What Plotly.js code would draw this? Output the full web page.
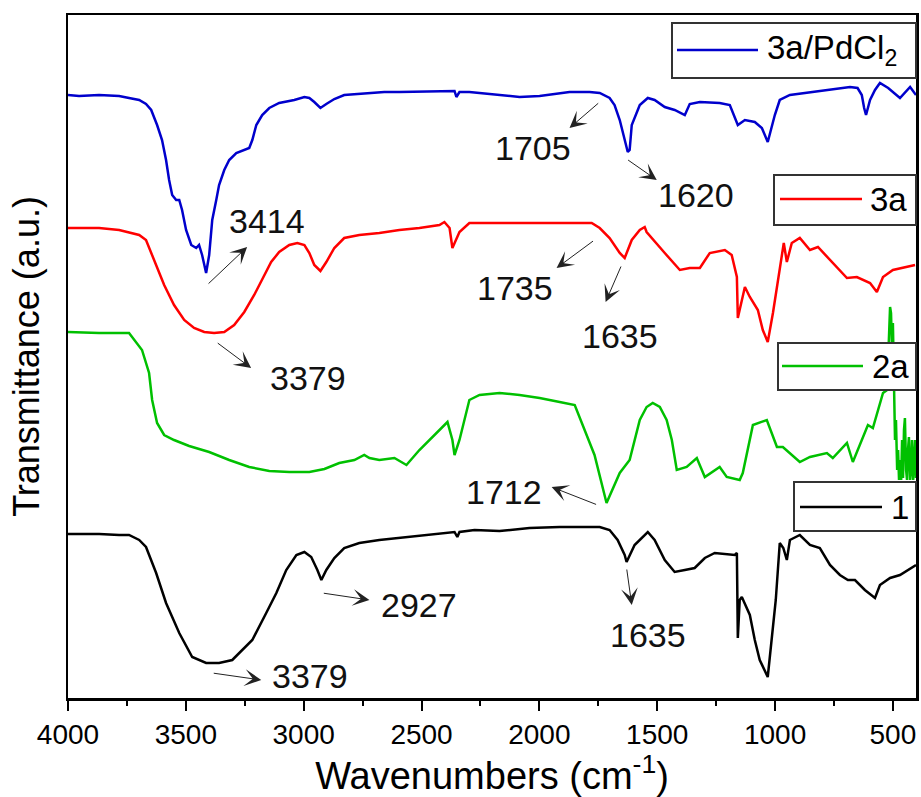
<!DOCTYPE html>
<html><head><meta charset="utf-8">
<script src="https://cdn.plot.ly/plotly-3.0.1.min.js"></script>
<style>html,body{margin:0;padding:0;background:#fff}</style>
</head><body>
<div id="chart" style="width:921px;height:797px"></div>
<script>
// ---- data (wavenumber in cm^-1, transmittance in arbitrary offset units) ----
const seriesNames = ['3a/PdCl<sub>2</sub>', '3a', '2a', '1'];

const wnPd = [4000,3953,3868,3783,3741,3698,3669,3647,3622,3601,3584,3571,3558,3541,3528,3516,3499,3477,3456,3444,3431,3414,3401,3388,3371,3359,3337,3316,3286,3252,3231,3218,3201,3176,3146,3104,3040,2997,2976,2955,2929,2904,2870,2828,2658,2594,2360,2352,2339,2297,2169,2084,1999,1872,1787,1744,1702,1681,1659,1638,1625,1617,1608,1574,1540,1511,1468,1426,1383,1379,1362,1319,1235,1192,1158,1128,1086,1056,1031,1001,980,937,810,725,682,650,632,622,614,597,576,555,520,470,427,402];
const tPd = [603,602,603,602,600,598,594,588,573,558,538,518,503,498,498,488,468,453,450,453,443,425,443,478,498,513,528,538,545,548,550,558,573,583,590,595,598,601,600,596,590,594,599,603,606,606,607,601,606,606,603,601,602,606,606,605,600,593,578,558,546,548,573,593,600,598,591,588,583,585,594,596,595,593,573,578,576,570,556,583,598,603,607,610,611,610,603,590,583,598,608,615,610,600,611,603];

const wn3a = [4000,3868,3783,3698,3669,3635,3592,3550,3507,3465,3422,3380,3337,3295,3252,3210,3167,3138,3104,3061,3027,2997,2976,2955,2929,2904,2870,2828,2764,2679,2594,2509,2424,2403,2381,2369,2339,2297,2212,1999,1778,1744,1702,1659,1638,1608,1574,1553,1545,1468,1404,1362,1319,1277,1213,1184,1162,1158,1128,1107,1073,1052,1031,1009,988,963,950,929,895,852,818,767,725,695,653,597,568,542,500,440,406];
const t3a = [470,470,468,463,458,438,413,393,378,370,366,365,366,373,386,403,423,436,446,453,455,453,445,433,427,436,450,460,463,465,468,470,473,476,470,450,466,475,475,475,475,470,460,445,440,458,468,471,466,445,428,430,430,445,448,443,421,380,411,401,388,368,356,385,418,455,436,455,460,448,451,438,428,420,421,415,406,421,428,431,433];

const wn2a = [4000,3868,3741,3707,3686,3656,3643,3622,3592,3550,3486,3401,3316,3231,3146,3061,2976,2912,2849,2785,2743,2721,2679,2615,2564,2509,2445,2390,2369,2360,2339,2297,2254,2169,2084,1999,1914,1850,1808,1766,1715,1659,1617,1574,1545,1519,1489,1460,1438,1417,1375,1332,1298,1235,1205,1150,1137,1094,1035,992,967,895,852,780,755,695,670,606,585,542,525,521,516,512,508,504,500,495,491,487,482,478,474,470,465,461,457,453,449,444,440,436,432,427,423,419,414,410,406,402];
const t2a = [366,365,365,355,348,325,298,275,263,258,252,246,238,231,227,226,226,229,235,238,243,240,238,240,233,248,263,276,258,243,258,298,303,305,303,300,296,293,268,243,195,225,238,278,291,295,291,278,258,228,231,240,221,231,221,218,225,273,278,251,251,236,241,245,240,255,236,273,270,305,308,340,375,391,385,350,375,298,258,278,228,248,218,238,218,258,220,268,280,228,218,248,261,218,228,258,218,238,258,220];

const wn1 = [4000,3868,3783,3741,3698,3669,3626,3584,3528,3473,3414,3359,3303,3218,3159,3116,3074,3031,2997,2968,2942,2925,2904,2870,2828,2764,2679,2594,2509,2424,2360,2348,2339,2275,2169,2042,1914,1744,1702,1668,1638,1630,1596,1540,1511,1468,1426,1383,1341,1298,1256,1171,1162,1158,1150,1141,1107,1086,1065,1031,1014,997,980,965,950,937,895,852,810,767,725,691,661,619,576,555,512,470,402];
const t1 = [164,164,163,163,158,151,125,95,65,41,35,35,38,58,85,105,128,143,146,141,128,118,128,140,150,155,158,160,162,164,166,161,166,168,167,170,171,171,168,158,143,136,153,166,158,138,126,128,130,140,145,143,145,60,98,101,83,58,38,21,58,98,155,150,138,158,163,153,150,133,123,118,118,108,100,113,120,123,133];

const peakLabels = ['3414','3379','2927','3379','1705','1620','1735','1635','1712','1635'];

// ---- layout helpers (placement only) ----
const labelAt = [[3155,477],[2980,320],[2509,93],[2972,22],[2029,550],[1337,503],[2105,410],[1659,362],[2148,206],[1540,63]];
const arrowAt = [ // [headX, headY, tailX, tailY]
  [3240,451,3410,413],[3223,330,3371,356],[2721,98,2921,105],[3180,18,3388,25],
  [1872,570,1744,596],[1502,518,1630,539],[1927,430,1766,458],[1719,396,1651,433],
  [1948,211,1753,193],[1608,93,1630,130]
];

const M = {l:68, r:5, t:15, b:99}, W = 921, H = 797;
const PW = W - M.l - M.r, PH = H - M.t - M.b;
const px = v => (v - M.l) / PW;          // page pixel -> paper x
const py = v => (H - M.b - v) / PH;      // page pixel -> paper y

// legend boxes in page pixels: [boxL, boxR, boxT, boxB, lineL, lineR, lineY, textL]
const legendBoxes = [
  [672, 916, 23, 78, 677, 758, 50, 765],
  [774, 916, 175, 225, 780, 862, 199, 868],
  [778, 916, 343, 390, 782, 863, 366, 870],
  [794, 916, 482, 531, 800, 882, 507, 889]
];

const colors = ['#0000cc','#ff0000','#00c000','#000000'];
const xs = [wnPd, wn3a, wn2a, wn1];
const ys = [tPd, t3a, t2a, t1];

const traces = xs.map((x,i) => ({
  type:'scatter', mode:'lines', x:x, y:ys[i], name:seriesNames[i],
  line:{color:colors[i], width:2.5}, showlegend:false, hoverinfo:'skip'
}));

const annotations = [];
const shapes = [];
peakLabels.forEach((txt,i) => {
  annotations.push({xref:'x', yref:'y', x:labelAt[i][0], y:labelAt[i][1], text:txt, showarrow:false,
    xanchor:'center', yanchor:'middle', font:{size:34, color:'#111'}});
  const a = arrowAt[i];
  annotations.push({xref:'x', yref:'y', axref:'x', ayref:'y', x:a[0], y:a[1], ax:a[2], ay:a[3], text:'',
    showarrow:true, arrowhead:3, arrowsize:2.8, arrowwidth:1, arrowcolor:'#222', standoff:0, startstandoff:0});
});

legendBoxes.forEach((b,i) => {
  shapes.push({type:'rect', xref:'paper', yref:'paper', x0:px(b[0]), x1:px(b[1]), y0:py(b[3]), y1:py(b[2]),
    fillcolor:'#fff', line:{color:'#333', width:2}, layer:'above'});
  shapes.push({type:'line', xref:'paper', yref:'paper', x0:px(b[4]), x1:px(b[5]), y0:py(b[6]), y1:py(b[6]),
    line:{color:colors[i], width:2.5}, layer:'above'});
  annotations.push({xref:'paper', yref:'paper', x:px(b[7]), y:py(b[6]), text:seriesNames[i], showarrow:false,
    xanchor:'left', yanchor:'middle', font:{size:33, color:'#000'}});
});

const layout = {
  width:W, height:H,
  margin:M,
  paper_bgcolor:'#fff', plot_bgcolor:'#fff',
  font:{family:'Liberation Sans, Arial, sans-serif', color:'#000'},
  showlegend:false,
  xaxis:{range:[4000,402], dtick:500, tick0:0, ticks:'outside', ticklen:10, tickwidth:2, tickcolor:'#000',
    showline:true, linewidth:2.5, linecolor:'#000', mirror:true, showgrid:false, zeroline:false,
    tickfont:{size:28},
    minor:{ticks:'outside', ticklen:5, tickwidth:2, tickcolor:'#000', dtick:250, tick0:0, showgrid:false},
    title:{text:'Wavenumbers (cm<sup>-1</sup>)', font:{size:38}, standoff:13}},
  yaxis:{range:[0,683], showticklabels:false, ticks:'', showline:true, linewidth:2.5, linecolor:'#000',
    mirror:true, showgrid:false, zeroline:false,
    title:{text:'Transmittance (a.u.)', font:{size:36}, standoff:15}},
  shapes:shapes,
  annotations:annotations
};

Plotly.newPlot('chart', traces, layout, {displayModeBar:false, staticPlot:true});
</script>
</body></html>
